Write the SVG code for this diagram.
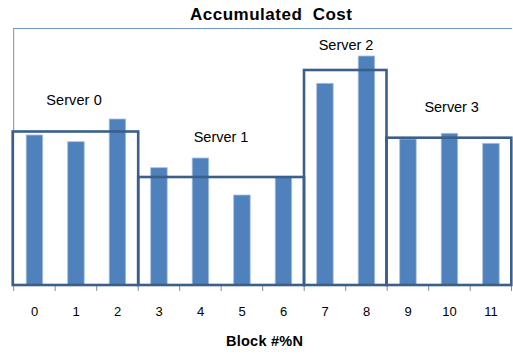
<svg xmlns="http://www.w3.org/2000/svg" width="513" height="355" viewBox="0 0 513 355">
  <style>
    .bar { fill: #4F81BD; stroke: #A7C0DE; stroke-width: 0.8; }
    .srv { fill: none; stroke: #3A5F8B; stroke-width: 2.6; }
    .tick { stroke: #8C8C8C; stroke-width: 1; }
    .lbl { font-family: "Liberation Sans", Arial, sans-serif; font-size: 14.5px; fill: #000; }
    .num { font-family: "Liberation Sans", Arial, sans-serif; font-size: 13px; fill: #000; text-anchor: middle; }
    .ttl { font-family: "Liberation Sans", Arial, sans-serif; font-weight: bold; fill: #000; text-anchor: middle; }
  </style>
  <rect x="0" y="0" width="513" height="355" fill="#FFFFFF"/>

  <!-- plot area frame -->
  <line x1="14" y1="28.5" x2="512" y2="28.5" stroke="#6F94C6" stroke-width="1.2"/>
  <line x1="13.7" y1="28" x2="13.7" y2="291" class="tick"/>

  <!-- bars: one per block, category width 41.5 starting at x=13.7 -->
  <g id="bars">
    <rect class="bar" x="26.2" y="135" width="16.5" height="150"/>
    <rect class="bar" x="67.7" y="141.7" width="16.5" height="143.3"/>
    <rect class="bar" x="109.2" y="119" width="16.5" height="166"/>
    <rect class="bar" x="150.7" y="167.7" width="16.5" height="117.3"/>
    <rect class="bar" x="192.2" y="158" width="16.5" height="127"/>
    <rect class="bar" x="233.7" y="195" width="16.5" height="90"/>
    <rect class="bar" x="275.2" y="177" width="16.5" height="108"/>
    <rect class="bar" x="316.7" y="83.3" width="16.5" height="201.7"/>
    <rect class="bar" x="358.2" y="56" width="16.5" height="229"/>
    <rect class="bar" x="399.7" y="139" width="16.5" height="146"/>
    <rect class="bar" x="441.2" y="133.3" width="16.5" height="151.7"/>
    <rect class="bar" x="482.7" y="143.3" width="16.5" height="141.7"/>
  </g>

  <!-- axis ticks -->
  <g id="ticks">
    <line class="tick" x1="55.2" y1="285" x2="55.2" y2="291"/>
    <line class="tick" x1="96.7" y1="285" x2="96.7" y2="291"/>
    <line class="tick" x1="138.2" y1="285" x2="138.2" y2="291"/>
    <line class="tick" x1="179.7" y1="285" x2="179.7" y2="291"/>
    <line class="tick" x1="221.2" y1="285" x2="221.2" y2="291"/>
    <line class="tick" x1="262.7" y1="285" x2="262.7" y2="291"/>
    <line class="tick" x1="304.2" y1="285" x2="304.2" y2="291"/>
    <line class="tick" x1="345.7" y1="285" x2="345.7" y2="291"/>
    <line class="tick" x1="387.2" y1="285" x2="387.2" y2="291"/>
    <line class="tick" x1="428.7" y1="285" x2="428.7" y2="291"/>
    <line class="tick" x1="470.2" y1="285" x2="470.2" y2="291"/>
    <line class="tick" x1="511.5" y1="285" x2="511.5" y2="291"/>
  </g>

  <!-- server groups -->
  <g id="server0">
    <rect class="srv" x="12.7" y="131.5" width="125.5" height="153.5"/>
    <text class="lbl" x="74" y="105" text-anchor="middle" textLength="55.5">Server 0</text>
  </g>
  <g id="server1">
    <rect class="srv" x="138.2" y="177" width="165.8" height="108"/>
    <text class="lbl" x="221" y="141.7" text-anchor="middle" textLength="54.5">Server 1</text>
  </g>
  <g id="server2">
    <rect class="srv" x="304" y="70" width="82.5" height="215"/>
    <text class="lbl" x="346" y="50" text-anchor="middle" textLength="54.5">Server 2</text>
  </g>
  <g id="server3">
    <rect class="srv" x="386.5" y="137.7" width="124.8" height="147.3"/>
    <text class="lbl" x="451.7" y="112.3" text-anchor="middle" textLength="54.5">Server 3</text>
  </g>

  <!-- category labels -->
  <g id="categories">
    <text class="num" x="34.5" y="316">0</text>
    <text class="num" x="76" y="316">1</text>
    <text class="num" x="117.5" y="316">2</text>
    <text class="num" x="159" y="316">3</text>
    <text class="num" x="200.5" y="316">4</text>
    <text class="num" x="242" y="316">5</text>
    <text class="num" x="283.5" y="316">6</text>
    <text class="num" x="325" y="316">7</text>
    <text class="num" x="366.5" y="316">8</text>
    <text class="num" x="408" y="316">9</text>
    <text class="num" x="449.5" y="316">10</text>
    <text class="num" x="491" y="316">11</text>
  </g>

  <!-- titles -->
  <text class="ttl" x="271" y="19.5" font-size="17px" xml:space="preserve" textLength="162">Accumulated  Cost</text>
  <text class="ttl" x="264.5" y="346" font-size="14.5px" textLength="77">Block #%N</text>
</svg>
